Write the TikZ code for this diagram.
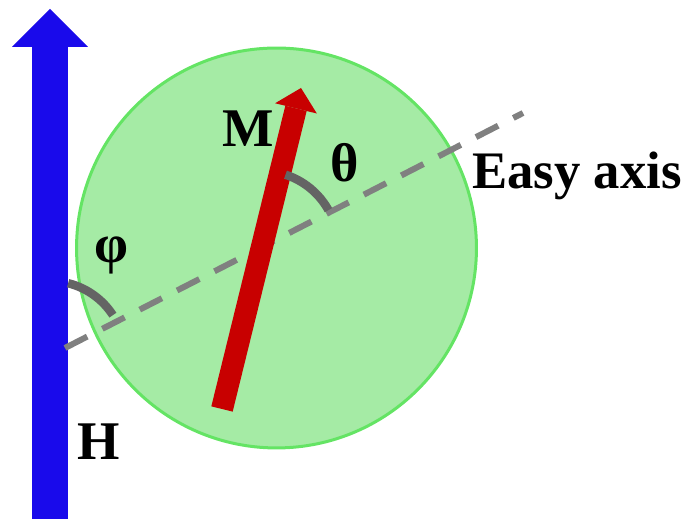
\documentclass[tikz,border=0pt]{standalone}
\usepackage{xcolor}
\usepackage{fontspec}
\setmainfont{Liberation Serif}
\usepackage{tikz}
\usetikzlibrary{arrows.meta, positioning, calc}
\definecolor{fieldblue}{RGB}{25,10,235}
\definecolor{momentred}{RGB}{200,0,0}
\definecolor{grainfill}{RGB}{165,235,165}
\definecolor{grainedge}{RGB}{100,228,100}
\definecolor{axisgray}{RGB}{128,128,128}
\definecolor{anglegray}{RGB}{100,100,100}
\tikzstyle{symbol} = [font=\fontsize{31}{36}\selectfont\bfseries, inner sep=0pt, anchor=base]
\tikzstyle{anglearc} = [line width=0.17cm, draw=anglegray]

\begin{document}
\begin{tikzpicture}[
    x=0.02cm, y=0.02cm,
    fieldarrow/.style={line width=0.74cm, draw=fieldblue, -{Triangle[length=0.76cm, width=1.52cm, line width=0pt]}},
    momentarrow/.style={line width=0.44cm, draw=momentred, -{Triangle[length=0.42cm, width=0.86cm, line width=0pt]}},
    easyaxis/.style={line width=0.12cm, draw=axisgray, dash pattern=on 0.5cm off 0.34cm},
    grain/.style={circle, draw=grainedge, fill=grainfill, line width=0.06cm, minimum size=8cm, inner sep=0pt}
  ]
    \useasboundingbox (0,0) rectangle (686,519);

    % Applied field
    \coordinate (hbase) at (50,0);
    \coordinate (htip) at (50,510);
    \draw[fieldarrow] (hbase) -- (htip);

    % Particle
    \node[grain] (particle) at (276.5,271) {};

    % Easy axis
    \coordinate (axstart) at (65,171);
    \coordinate (axend) at (523,406);
    \draw[easyaxis] (axstart) -- (axend);

    % Magnetisation
    \coordinate (mtail) at (222,110);
    \coordinate (mtip) at (301,431);
    \draw[momentarrow] (mtail) -- (mtip);

    % Angles
    \coordinate (cross) at (262,272);
    \coordinate (hcross) at (50,163);
    \draw[anglearc] ($(cross)+(29:76)$) arc[start angle=29, end angle=72, radius=76];
    \draw[anglearc] ($(hcross)+(33:75)$) arc[start angle=33, end angle=76, radius=75];

    % Labels
    \node[symbol] (mlabel) at (248,372) {M};
    \node[symbol] (thetalabel) at (345,337) {θ};
    \node[symbol, anchor=base east, font=\fontsize{30}{36}\selectfont\bfseries] (axislabel) at (682,330) {Easy axis};
    \node[symbol] (philabel) at (111,256) {φ};
    \node[symbol] (hlabel) at (98.5,59) {H};
\end{tikzpicture}
\end{document}
